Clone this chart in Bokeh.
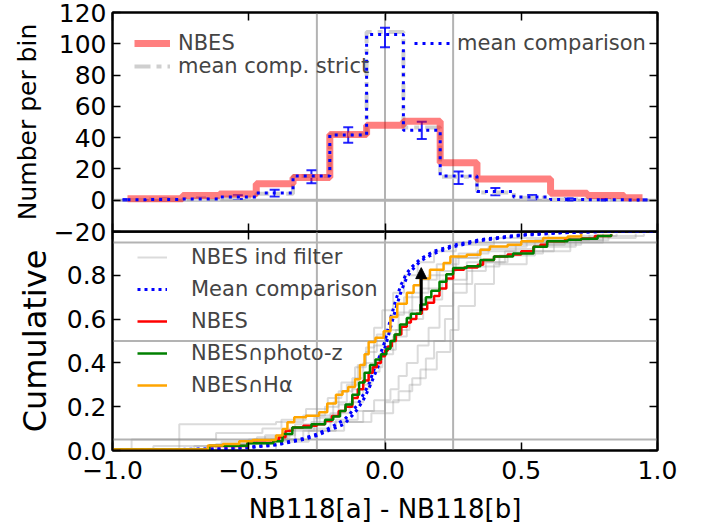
from bokeh.plotting import figure
from bokeh.models import (Range1d, FixedTicker, LinearAxis, Legend, LegendItem, Span,
                          Whisker, TeeHead, ColumnDataSource, Arrow, NormalHead,
                          CustomJSTickFormatter)
from bokeh.layouts import column
from bokeh.embed import file_html
from bokeh.resources import INLINE

FONT = "DejaVu Sans"

# ---------------- top panel data (histogram, bin centres) ----------------
bin_centers = [-0.945, -0.81, -0.675, -0.54, -0.405, -0.27, -0.135, 0.0,
               0.135, 0.27, 0.405, 0.54, 0.675, 0.81, 0.945]
nbes_counts = [1, 1, 3, 4, 10.5, 14.6, 42, 48, 50.5, 24, 13.5, 13.5, 4.5, 3, 1.5]
comp_mean = [0.3, 0.5, 0.8, 2, 4.6, 15.5, 41.7, 106, 44.7, 15.5, 5.5, 2, 0.5, 0.3, 0.2]
comp_strict = [0.2, 0.4, 0.6, 1.8, 4.2, 15.5, 42, 107.5, 46.5, 15, 5, 1.5, 0.4, 0.2, 0.1]
err_center = [0.3, 0.5, 0.8, 2, 4.5, 15, 41.7, 104, 44.7, 14.3, 5.5, 2, 0.5, 0.3, 0.2]
err_size = [0.5, 0.6, 0.7, 1.2, 2.2, 4.2, 5.0, 6.2, 5.5, 4.0, 2.3, 1.4, 0.7, 0.5, 0.4]

hist_yticks = [-20, 0, 20, 40, 60, 80, 100, 120]
x_ticks = [-1.0, -0.5, 0.0, 0.5, 1.0]
cum_yticks = [0.0, 0.2, 0.4, 0.6, 0.8]
ref_x = [-0.25, 0.0, 0.25]
ref_hist_y = [0]
ref_cum_y = [0.05, 0.5, 0.95]

# ---------------- bottom panel data (cumulative distributions) ----------------
nbes_x = [-1.0, -0.645, -0.505, -0.41, -0.39, -0.365, -0.34, -0.30, -0.25, -0.22, -0.195,
          -0.17, -0.145, -0.12, -0.10, -0.08, -0.06, -0.045, -0.03, -0.015, 0.0, 0.01,
          0.025, 0.04, 0.06, 0.08, 0.095, 0.115, 0.135, 0.155, 0.18, 0.2, 0.225, 0.25,
          0.29, 0.34, 0.36, 0.40, 0.45, 0.50, 0.545, 0.57, 0.595, 0.66, 0.72, 0.77, 0.83]
nbes_y = [0.004, 0.02, 0.035, 0.045, 0.06, 0.09, 0.105, 0.113, 0.12, 0.135, 0.158,
          0.18, 0.2, 0.24, 0.28, 0.32, 0.355, 0.38, 0.40, 0.43, 0.455, 0.475,
          0.5, 0.53, 0.565, 0.585, 0.6, 0.625, 0.645, 0.675, 0.705, 0.74, 0.785, 0.825,
          0.836, 0.848, 0.87, 0.886, 0.895, 0.91, 0.93, 0.94, 0.955, 0.962, 0.968, 0.98, 0.988]

photz_x = [-1.0, -0.645, -0.505, -0.41, -0.376, -0.34, -0.27, -0.22, -0.19, -0.165, -0.145,
           -0.12, -0.095, -0.075, -0.055, -0.035, -0.015, 0.005, 0.02, 0.035, 0.055, 0.08,
           0.095, 0.13, 0.15, 0.17, 0.2, 0.225, 0.25, 0.30, 0.35, 0.40, 0.47, 0.545, 0.595,
           0.67, 0.72, 0.78, 0.83]
photz_y = [0.004, 0.022, 0.033, 0.042, 0.075, 0.105, 0.12, 0.14, 0.155, 0.18, 0.21,
           0.255, 0.31, 0.355, 0.39, 0.415, 0.44, 0.465, 0.5, 0.53, 0.575, 0.605,
           0.625, 0.667, 0.7, 0.73, 0.77, 0.805, 0.833, 0.841, 0.87, 0.886, 0.9, 0.93, 0.955,
           0.962, 0.967, 0.98, 0.988]

halpha_x = [-1.0, -0.65, -0.595, -0.535, -0.486, -0.40, -0.376, -0.358, -0.333, -0.29, -0.242,
            -0.212, -0.18, -0.156, -0.135, -0.11, -0.092, -0.075, -0.06, -0.035, -0.005, 0.02,
            0.045, 0.08, 0.105, 0.13, 0.165, 0.215, 0.24, 0.30, 0.35, 0.385, 0.45, 0.5, 0.58,
            0.67, 0.72]
halpha_y = [0.005, 0.023, 0.03, 0.042, 0.048, 0.068, 0.098, 0.129, 0.152, 0.159, 0.175,
            0.215, 0.255, 0.27, 0.29, 0.325, 0.39, 0.44, 0.495, 0.515, 0.545, 0.61,
            0.67, 0.72, 0.755, 0.785, 0.825, 0.856, 0.886, 0.894, 0.917, 0.932, 0.94, 0.955, 0.97,
            0.977, 0.99]

meancomp_x = [-1.0, -0.75, -0.6, -0.5, -0.4, -0.3, -0.25, -0.2, -0.15, -0.12, -0.1, -0.08,
              -0.06, -0.04, -0.02, 0.0, 0.02, 0.04, 0.06, 0.08, 0.1, 0.13, 0.18, 0.25, 0.35,
              0.5, 0.65, 0.8, 1.0]
meancomp_y = [0.003, 0.005, 0.008, 0.015, 0.028, 0.055, 0.075, 0.105, 0.14, 0.18, 0.21, 0.255,
              0.3, 0.37, 0.43, 0.5, 0.6, 0.69, 0.76, 0.81, 0.84, 0.875, 0.91, 0.937, 0.963,
              0.985, 0.995, 1.0, 1.0]
meancomp2_y = [0.002, 0.004, 0.007, 0.013, 0.025, 0.05, 0.068, 0.095, 0.12, 0.16, 0.19, 0.23,
               0.28, 0.34, 0.40, 0.47, 0.56, 0.65, 0.73, 0.79, 0.825, 0.865, 0.9, 0.93, 0.958,
               0.982, 0.994, 1.0, 1.0]

grey1_x = [-1.0, -0.93, -0.62, -0.45, -0.38, -0.29, -0.21, -0.16, -0.11, -0.07, -0.03, 0.02,
           0.07, 0.13, 0.19, 0.27, 0.38, 0.52, 0.68, 0.85]
grey1_y = [0.0, 0.05, 0.08, 0.10, 0.14, 0.19, 0.24, 0.31, 0.38, 0.45, 0.53, 0.62,
           0.70, 0.78, 0.85, 0.90, 0.93, 0.96, 0.98, 0.99]
grey2_x = [-1.0, -0.755, -0.40, -0.30, -0.22, -0.17, -0.12, -0.08, -0.04, 0.0, 0.05, 0.10,
           0.16, 0.25, 0.35, 0.55, 0.75]
grey2_y = [0.0, 0.12, 0.13, 0.16, 0.20, 0.27, 0.33, 0.40, 0.48, 0.55, 0.63, 0.72,
           0.80, 0.88, 0.92, 0.96, 0.985]
grey3_x = [-1.0, -0.55, -0.42, -0.30, -0.18, -0.10, -0.04, 0.02, 0.05, 0.08, 0.12, 0.16,
           0.20, 0.25, 0.32, 0.42, 0.55, 0.70, 0.82]
grey3_y = [0.0, 0.03, 0.05, 0.09, 0.14, 0.18, 0.23, 0.28, 0.34, 0.40, 0.48, 0.56,
           0.66, 0.76, 0.84, 0.89, 0.93, 0.96, 0.985]
grey4_x = [-1.0, -0.48, -0.33, -0.20, -0.08, 0.0, 0.05, 0.10, 0.15, 0.18, 0.22, 0.25,
           0.30, 0.37, 0.45, 0.58, 0.72, 0.92]
grey4_y = [0.0, 0.05, 0.10, 0.13, 0.18, 0.22, 0.27, 0.33, 0.42, 0.50, 0.60, 0.72,
           0.82, 0.86, 0.90, 0.94, 0.97, 0.99]
grey5_x = [-1.0, -0.70, -0.50, -0.36, -0.26, -0.19, -0.14, -0.10, -0.07, -0.04, -0.01, 0.03,
           0.07, 0.12, 0.18, 0.26, 0.40, 0.60]
grey5_y = [0.0, 0.02, 0.05, 0.09, 0.15, 0.22, 0.30, 0.39, 0.47, 0.56, 0.64, 0.72,
           0.80, 0.86, 0.91, 0.94, 0.97, 0.99]
grey6_x = [-1.0, -0.85, -0.60, -0.44, -0.33, -0.24, -0.17, -0.12, -0.06, -0.02, 0.03, 0.08,
           0.14, 0.21, 0.30, 0.44, 0.62, 0.80, 0.95]
grey6_y = [0.0, 0.02, 0.04, 0.07, 0.12, 0.16, 0.21, 0.28, 0.36, 0.44, 0.52, 0.60,
           0.69, 0.78, 0.86, 0.91, 0.95, 0.98, 0.99]
grey7_x = [-1.0, -0.62, -0.47, -0.35, -0.27, -0.20, -0.13, -0.08, -0.05, -0.01, 0.04, 0.09,
           0.13, 0.20, 0.26, 0.34, 0.48, 0.66, 0.78]
grey7_y = [0.0, 0.03, 0.06, 0.10, 0.13, 0.17, 0.22, 0.30, 0.38, 0.46, 0.55, 0.64,
           0.74, 0.82, 0.88, 0.91, 0.94, 0.97, 0.99]
grey8_x = [-1.0, -0.40, -0.28, -0.15, -0.05, 0.03, 0.09, 0.13, 0.19, 0.24, 0.27, 0.33,
           0.40, 0.52, 0.68, 0.80]
grey8_y = [0.0, 0.04, 0.09, 0.13, 0.17, 0.23, 0.30, 0.37, 0.45, 0.55, 0.66, 0.76,
           0.85, 0.91, 0.96, 0.99]

arrow_x = 0.133
arrow_y_start = 0.636
arrow_y_end = 0.835

# ---------------- helpers ----------------
fmt_x = CustomJSTickFormatter(code="return (tick < 0 ? '\u2212' : '') + Math.abs(tick).toFixed(1);")
fmt_int = CustomJSTickFormatter(code="return (tick < 0 ? '\u2212' : '') + Math.abs(tick).toFixed(0);")
fmt_cum = CustomJSTickFormatter(code="return tick.toFixed(1);")


def style_axis(ax, ticks, show_labels, formatter=None):
    ax.ticker = FixedTicker(ticks=ticks)
    ax.minor_tick_line_color = None
    ax.major_tick_in = 8
    ax.major_tick_out = 0
    ax.major_tick_line_width = 1.5
    ax.major_tick_line_color = "black"
    ax.axis_line_color = "black"
    ax.axis_line_width = 2
    ax.major_label_text_font = FONT
    ax.axis_label_text_font = FONT
    ax.axis_label_text_font_style = "normal"
    ax.axis_label_text_font_size = "26px"
    ax.axis_label_text_color = "black"
    if formatter is not None:
        ax.formatter = formatter
    if show_labels:
        ax.major_label_text_font_size = "25px"
        ax.major_label_text_color = "black"
    else:
        ax.major_label_text_font_size = "0px"
        ax.major_label_standoff = 0


def base_fig(height, y_range, x_range, mb_top, mb_bottom):
    p = figure(width=708, height=height, x_range=x_range, y_range=y_range,
               output_backend="svg", toolbar_location=None,
               min_border_left=112, min_border_right=51,
               min_border_top=mb_top, min_border_bottom=mb_bottom)
    p.grid.visible = False
    p.outline_line_color = "black"
    p.outline_line_width = 2
    return p


x_range = Range1d(-1, 1)

# ================= TOP PANEL =================
top = base_fig(245, Range1d(-20, 120), x_range, 12, 14)
style_axis(top.xaxis[0], x_ticks, False)
style_axis(top.yaxis[0], hist_yticks, True, fmt_int)
top.yaxis[0].major_label_standoff = 6
top.yaxis[0].axis_label = "Number per bin"
top.yaxis[0].axis_label_text_font_size = "25px"
top.yaxis[0].axis_label_standoff = 9
ax_t = LinearAxis()
style_axis(ax_t, x_ticks, False)
top.add_layout(ax_t, "above")
ax_r = LinearAxis()
style_axis(ax_r, hist_yticks, False)
top.add_layout(ax_r, "right")

for v in ref_x:
    top.add_layout(Span(location=v, dimension="height", line_color="#b3b3b3",
                        line_width=2, level="underlay"))
for h in ref_hist_y:
    top.add_layout(Span(location=h, dimension="width", line_color="#b3b3b3",
                        line_width=3, level="underlay"))

r_strict = top.step(bin_centers, comp_strict, mode="center", line_color="#cfcfcf",
                    line_width=4, line_dash="16 6 5 6")
r_nbes = top.step(bin_centers, nbes_counts, mode="center", line_color="red",
                  line_alpha=0.5, line_width=7)
r_comp = top.step(bin_centers, comp_mean, mode="center", line_color="blue",
                  line_width=3, line_dash="3 5")

lower = [c - e for c, e in zip(err_center, err_size)]
upper = [c + e for c, e in zip(err_center, err_size)]
err_src = ColumnDataSource(data=dict(x=bin_centers, lower=lower, upper=upper))
top.add_layout(Whisker(source=err_src, base="x", lower="lower", upper="upper",
                       dimension="height", line_color="blue", line_width=2, line_alpha=0.85,
                       upper_head=TeeHead(size=10, line_color="blue", line_width=2, line_alpha=0.85),
                       lower_head=TeeHead(size=10, line_color="blue", line_width=2, line_alpha=0.85)))


def mk_legend(items, loc, gw, standoff, spacing=0):
    lg = Legend(items=items, location=loc, glyph_width=gw, glyph_height=20,
                label_height=20, label_standoff=standoff, spacing=spacing,
                padding=0, margin=0, border_line_alpha=0, background_fill_alpha=0,
                label_text_font=FONT, label_text_font_size="21px")
    return lg


top.add_layout(mk_legend([LegendItem(label="NBES", renderers=[r_nbes])], (22, 176), 36, 8))
top.add_layout(mk_legend([LegendItem(label="mean comp. strict", renderers=[r_strict])], (22, 153), 36, 8))
top.add_layout(mk_legend([LegendItem(label="mean comparison", renderers=[r_comp])], (302, 176), 36, 7))

# ================= BOTTOM PANEL =================
bot = base_fig(295, Range1d(0, 1), x_range, 0, 75)
bot.margin = (-14, 0, 0, 0)
bot.background_fill_alpha = 0
bot.border_fill_alpha = 0
style_axis(bot.xaxis[0], x_ticks, True, fmt_x)
bot.xaxis[0].major_label_standoff = 10
bot.xaxis[0].axis_label = "NB118[a] - NB118[b]"
bot.xaxis[0].axis_label_standoff = 12
style_axis(bot.yaxis[0], cum_yticks, True, fmt_cum)
bot.yaxis[0].major_label_standoff = 6
bot.yaxis[0].axis_label = "Cumulative"
bot.yaxis[0].axis_label_text_font_size = "32px"
bot.yaxis[0].axis_label_standoff = 10
ax_t2 = LinearAxis()
style_axis(ax_t2, x_ticks, False)
bot.add_layout(ax_t2, "above")
ax_r2 = LinearAxis()
style_axis(ax_r2, cum_yticks, False)
bot.add_layout(ax_r2, "right")

for v in ref_x:
    bot.add_layout(Span(location=v, dimension="height", line_color="#b3b3b3",
                        line_width=2, level="underlay"))
for h in ref_cum_y:
    bot.add_layout(Span(location=h, dimension="width", line_color="#b3b3b3",
                        line_width=2, level="underlay"))

grey_curves = [(grey1_x, grey1_y), (grey2_x, grey2_y), (grey3_x, grey3_y), (grey4_x, grey4_y),
               (grey5_x, grey5_y), (grey6_x, grey6_y), (grey7_x, grey7_y), (grey8_x, grey8_y)]
grey_rs = []
for gx, gy in grey_curves:
    grey_rs.append(bot.step(gx, gy, mode="after", line_color="#999999", line_alpha=0.35,
                            line_width=2))

r_mc = bot.line(meancomp_x, meancomp_y, line_color="blue", line_width=3, line_dash="3 4")
bot.line(meancomp_x, meancomp2_y, line_color="blue", line_width=3, line_dash="3 4")
r_n = bot.step(nbes_x, nbes_y, mode="after", line_color="red", line_width=2.5)
r_p = bot.step(photz_x, photz_y, mode="after", line_color="green", line_width=2.5)
r_h = bot.step(halpha_x, halpha_y, mode="after", line_color="orange", line_width=2.5)

bot.add_layout(Arrow(end=NormalHead(size=11, fill_color="black", line_color="black"),
                     x_start=arrow_x, y_start=arrow_y_start, x_end=arrow_x, y_end=arrow_y_end,
                     line_color="black", line_width=3))

bot.add_layout(mk_legend([
    LegendItem(label="NBES ind filter", renderers=[grey_rs[0]]),
    LegendItem(label="Mean comparison", renderers=[r_mc]),
    LegendItem(label="NBES", renderers=[r_n]),
    LegendItem(label="NBES\u2229photo-z", renderers=[r_p]),
    LegendItem(label="NBES\u2229H\u03b1", renderers=[r_h]),
], (25, 53), 30, 24, spacing=8))

layout = column(top, bot)
open("out.html", "w").write(file_html(layout, INLINE))
